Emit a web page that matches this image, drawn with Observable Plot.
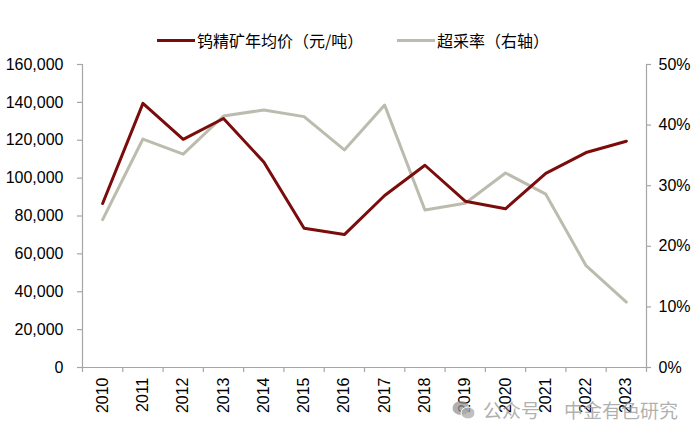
<!DOCTYPE html>
<html>
<head>
<meta charset="utf-8">
<script src="https://cdn.jsdelivr.net/npm/d3@7"></script>
<script src="https://cdn.jsdelivr.net/npm/@observablehq/plot@0.6"></script>
<style>
  html, body { margin: 0; padding: 0; background: #fff; }
  #wrap { position: relative; width: 700px; height: 438px; overflow: hidden; font-family: "Liberation Sans", Arial, sans-serif; }
  #legend { position: relative; height: 55px; width: 700px; }
  .item { position: absolute; top: 29px; display: flex; align-items: center; font-family: "Noto Sans CJK SC", sans-serif; font-size: 16px; color: #000; line-height: 22px; white-space: nowrap; }
  .sw { display: inline-block; width: 38px; height: 3px; margin-right: 2px; }
  #wm { position: absolute; left: 452px; top: 396px; display: flex; align-items: center; font-family: "Noto Sans CJK SC", sans-serif; font-size: 19px; color: rgba(150,150,150,0.75); white-space: nowrap; }
</style>
</head>
<body>
<div id="wrap">
  <div id="legend">
    <div class="item" style="left:157px"><span class="sw" id="sw1"></span><span>钨精矿年均价（元/吨）</span></div>
    <div class="item" style="left:397px"><span class="sw" id="sw2"></span><span>超采率（右轴）</span></div>
  </div>
  <div id="chart"></div>
  <div id="wm">
    <svg width="24" height="20" viewBox="0 0 24 20" style="margin-right:7px">
      <ellipse cx="9" cy="8" rx="8.5" ry="7" fill="rgba(150,150,150,0.75)"/>
      <ellipse cx="16" cy="13" rx="7" ry="6" fill="rgba(170,170,170,0.75)" stroke="#fff" stroke-width="1"/>
    </svg>
    <span>公众号</span><span style="margin-left:24px">中金有色研究</span>
  </div>
</div>
<script>
const years = [2010, 2011, 2012, 2013, 2014, 2015, 2016, 2017, 2018, 2019, 2020, 2021, 2022, 2023];
const price = [86600, 139500, 120500, 131500, 108500, 73500, 70200, 90800, 106800, 87800, 83800, 102500, 113500, 119500];
const overRate = [24.4, 37.7, 35.2, 41.5, 42.5, 41.4, 35.9, 43.3, 26.0, 27.1, 32.1, 28.6, 16.8, 10.8];
const leftTicks = [0, 20000, 40000, 60000, 80000, 100000, 120000, 140000, 160000];
const rightTicks = [0, 10, 20, 30, 40, 50];
const seriesNames = ["钨精矿年均价（元/吨）", "超采率（右轴）"];

const red = "#7b0c0c";
const gray = "#bcbcae";
const axisGray = "#a6a6a6";
document.getElementById("sw1").style.background = red;
document.getElementById("sw2").style.background = gray;

const scaleK = 160000 / 50; // right-axis percent -> left units
const priceData = years.map((y, i) => ({year: y, v: price[i]}));
const rateData = years.map((y, i) => ({year: y, v: overRate[i] * scaleK}));
const edges = d3.range(years[0] - 0.5, years[years.length - 1] + 1, 1);
const x0 = years[0] - 0.5, x1 = years[years.length - 1] + 0.5;

const chart = Plot.plot({
  width: 700,
  height: 383,
  marginLeft: 82,
  marginRight: 54,
  marginTop: 9,
  marginBottom: 71,
  style: {fontFamily: "'Liberation Sans', Arial, sans-serif", color: "#000", background: "#fff"},
  x: {domain: [x0, x1], axis: null},
  y: {domain: [0, 160000], axis: null},
  marks: [
    Plot.ruleX([x0], {y1: 0, y2: 160000, stroke: axisGray, strokeWidth: 1.2}),
    Plot.ruleX([x1], {y1: 0, y2: 160000, stroke: axisGray, strokeWidth: 1.2}),
    Plot.ruleY([0], {x1: x0, x2: x1, stroke: axisGray, strokeWidth: 1.2}),
    Plot.ruleX(edges, {x: d => d, y1: 0, y2: 0, insetBottom: -5, stroke: axisGray, strokeWidth: 1.2}),
    Plot.ruleY(leftTicks, {y: d => d, x1: x0, x2: x0, insetLeft: -5, stroke: axisGray, strokeWidth: 1.2}),
    Plot.ruleY(rightTicks, {y: d => d * scaleK, x1: x1, x2: x1, insetRight: -5, stroke: axisGray, strokeWidth: 1.2}),
    Plot.text(leftTicks, {y: d => d, frameAnchor: "left", text: d => d3.format(",")(d), textAnchor: "end", dx: -19, fontSize: 16, fill: "#000"}),
    Plot.text(rightTicks, {y: d => d * scaleK, frameAnchor: "right", text: d => d + "%", textAnchor: "start", dx: 12, fontSize: 16, fill: "#000"}),
    Plot.text(years, {x: d => d, frameAnchor: "bottom", text: d => String(d), rotate: -90, textAnchor: "end", lineAnchor: "middle", dy: 10, fontSize: 16, fill: "#000"}),
    Plot.line(rateData, {x: "year", y: "v", stroke: gray, strokeWidth: 3, title: () => seriesNames[1]}),
    Plot.line(priceData, {x: "year", y: "v", stroke: red, strokeWidth: 3, title: () => seriesNames[0]})
  ]
});
document.getElementById("chart").appendChild(chart);
</script>
</body>
</html>
